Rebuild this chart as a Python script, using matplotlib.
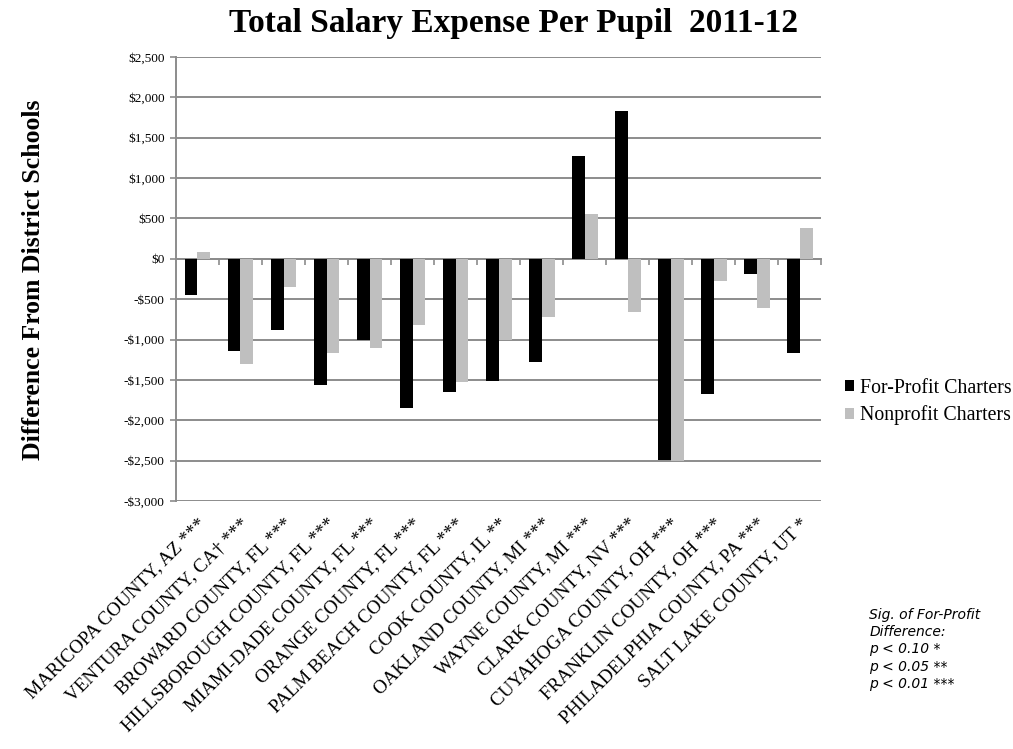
import matplotlib
matplotlib.use("Agg")
import matplotlib.pyplot as plt
import numpy as np

counties = ["MARICOPA COUNTY, AZ ***", "VENTURA COUNTY, CA\u2020 ***",
            "BROWARD COUNTY, FL ***", "HILLSBOROUGH COUNTY, FL ***",
            "MIAMI-DADE COUNTY, FL ***", "ORANGE COUNTY, FL ***",
            "PALM BEACH COUNTY, FL ***", "COOK COUNTY, IL **",
            "OAKLAND COUNTY, MI ***", "WAYNE COUNTY, MI ***",
            "CLARK COUNTY, NV ***", "CUYAHOGA COUNTY, OH ***",
            "FRANKLIN COUNTY, OH ***", "PHILADELPHIA COUNTY, PA ***",
            "SALT LAKE COUNTY, UT *"]
for_profit = [-450, -1140, -880, -1560, -1000, -1850, -1650, -1510, -1280,
              1275, 1830, -2490, -1670, -190, -1170]
nonprofit = [90, -1300, -350, -1165, -1110, -820, -1530, -1000, -720,
             560, -660, -2500, -270, -610, 380]
y_ticks = list(range(-3000, 2501, 500))

serif = "Liberation Serif"
grid_c = "#8c8c8c"

fig = plt.figure(figsize=(10.13, 7.49), dpi=100)
ax = fig.add_axes([0.1737, 0.331, 0.637, 0.593])

x = np.arange(len(counties))
w = 0.30
ax.bar(x - w / 2, for_profit, w, color="black", label="For-Profit Charters", zorder=3)
ax.bar(x + w / 2, nonprofit, w, color="#bfbfbf", label="Nonprofit Charters", zorder=3)

ax.set_xlim(-0.5, len(counties) - 0.5)
ax.set_ylim(-3000, 2500)
ax.set_yticks(y_ticks)
ax.set_yticklabels([("-$" if v < 0 else "$") + format(abs(v), ",") for v in y_ticks],
                   family=serif, fontsize=9.5)
ax.yaxis.grid(True, color=grid_c, linewidth=1.4, zorder=0)
ax.tick_params(axis="y", length=4, color=grid_c, width=1.2, pad=4)

ax.set_xticks(x)
ax.set_xticklabels(counties, rotation=45, ha="right", rotation_mode="anchor",
                   family=serif, fontsize=13.8)
ax.tick_params(axis="x", length=0, pad=10)

for s in ["top", "right", "bottom"]:
    ax.spines[s].set_visible(False)
ax.spines["left"].set_color(grid_c)
ax.spines["left"].set_linewidth(1.4)

# category axis crossing at zero, with tick marks between categories
sec = ax.secondary_xaxis(3000 / 5500)
sec.set_xticks(np.arange(len(counties)) + 0.5)
sec.tick_params(axis="x", direction="in", length=4, width=1.2, color=grid_c,
                labelbottom=False, labeltop=False)
for s in sec.spines.values():
    s.set_color(grid_c)
    s.set_linewidth(1.4)

fig.text(0.507, 0.968, "Total Salary Expense Per Pupil  2011-12", ha="center", va="center",
         family=serif, fontweight="bold", fontsize=24)
fig.text(0.033, 0.627, "Difference From District Schools", rotation=90, ha="center",
         va="center", family=serif, fontweight="bold", fontsize=18.5)

fig.legend(loc="upper left", bbox_to_anchor=(0.817, 0.518), frameon=False,
           prop={"family": serif, "size": 14.3}, handlelength=0.45, handleheight=0.45,
           handletextpad=0.3, labelspacing=0.38)

note = ["Sig. of For-Profit", "Difference:", "p < 0.10 *", "p < 0.05 **", "p < 0.01 ***"]
fig.text(0.858, 0.133, "\n".join(note), ha="left", va="center", family="DejaVu Sans",
         style="italic", fontsize=10, linespacing=1.3)

fig.savefig("out.png", dpi=100)
